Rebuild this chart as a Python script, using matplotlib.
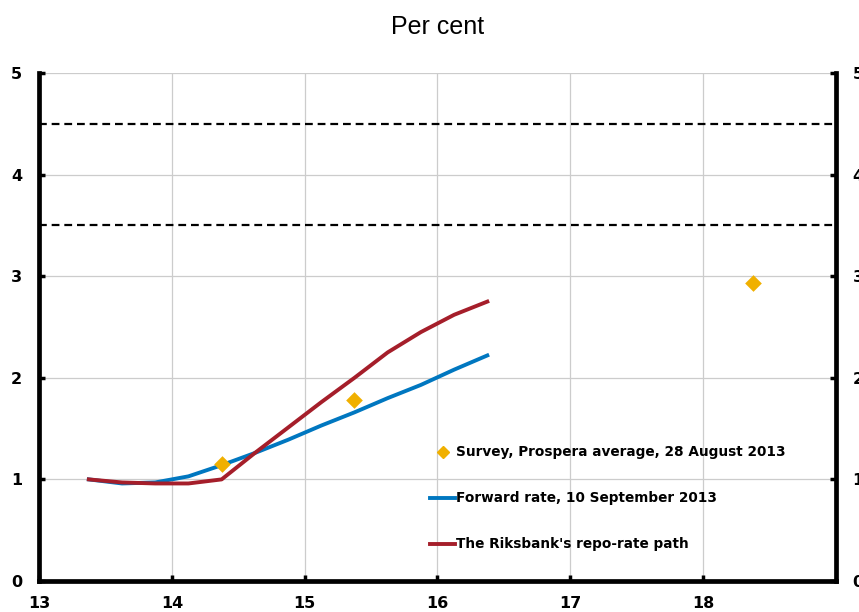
import matplotlib
matplotlib.use("Agg")
import matplotlib.pyplot as plt
from matplotlib.lines import Line2D

quarters = [13.375, 13.625, 13.875, 14.125, 14.375, 14.625, 14.875, 15.125,
            15.375, 15.625, 15.875, 16.125, 16.375]
forward_rate = [1.00, 0.96, 0.97, 1.03, 1.14, 1.26, 1.39, 1.53, 1.66, 1.80, 1.93, 2.08, 2.22]
repo_path = [1.00, 0.97, 0.96, 0.96, 1.00, 1.26, 1.51, 1.76, 2.00, 2.25, 2.45, 2.62, 2.75]
survey_x = [14.375, 15.375, 18.375]
survey_y = [1.15, 1.78, 2.93]
dashed_levels = [4.5, 3.5]
x_ticks = [13, 14, 15, 16, 17, 18]
y_ticks = [0, 1, 2, 3, 4, 5]

blue = "#0077C0"
red = "#A51E2A"
gold = "#F0B000"

fig = plt.figure(figsize=(8.59, 6.12), dpi=100)
ax = fig.add_axes([39/859, 1-581/612, (836-39)/859, (581-73)/612])

for lv in dashed_levels:
    ax.axhline(lv, color="black", lw=1.6, ls=(0, (3.5, 2.2)), zorder=2)

ax.plot(quarters, forward_rate, color=blue, lw=2.8, zorder=3)
ax.plot(quarters, repo_path, color=red, lw=2.8, zorder=4)
ax.scatter(survey_x, survey_y, marker="D", s=72, color=gold, zorder=5, linewidths=0)

ax.set_xlim(13, 19)
ax.set_ylim(0, 5)
ax.set_xticks(x_ticks)
ax.set_yticks(y_ticks)
ax.grid(True, color="#cccccc", lw=0.9, zorder=0)
ax.set_axisbelow(True)

for s in ["left", "bottom", "right"]:
    ax.spines[s].set_linewidth(3.4)
    ax.spines[s].set_color("black")
ax.spines["top"].set_visible(False)

ax.tick_params(axis="both", direction="in", length=4, width=2.5, colors="black",
               labelsize=11.5)
ax.tick_params(axis="x", pad=11)
ax.tick_params(axis="y", pad=12, right=True, labelright=True)
for lab in ax.get_xticklabels() + ax.get_yticklabels() + ax.yaxis.get_ticklabels(which="both"):
    lab.set_fontfamily("DejaVu Sans")
    lab.set_fontweight("bold")
for t in ax.yaxis.get_major_ticks():
    t.label2.set_fontweight("bold")
    t.label2.set_fontfamily("DejaVu Sans")

handles = [
    Line2D([], [], marker="D", color=gold, ls="none", markersize=6),
    Line2D([], [], color=blue, lw=2.8),
    Line2D([], [], color=red, lw=2.8),
]
labels = ["Survey, Prospera average, 28 August 2013",
          "Forward rate, 10 September 2013",
          "The Riksbank's repo-rate path"]
leg = ax.legend(handles, labels, loc="upper left", bbox_to_anchor=((425-39)/797, (581-440)/508),
                frameon=False, prop=dict(family="DejaVu Sans", weight="bold", size=9.8),
                handlelength=1.8, handletextpad=0.05, labelspacing=2.35, borderaxespad=0)

fig.text(438/859, 1-27/612, "Per cent", ha="center", va="center",
         family="Liberation Sans", size=18)

fig.savefig("out.png", dpi=100)
